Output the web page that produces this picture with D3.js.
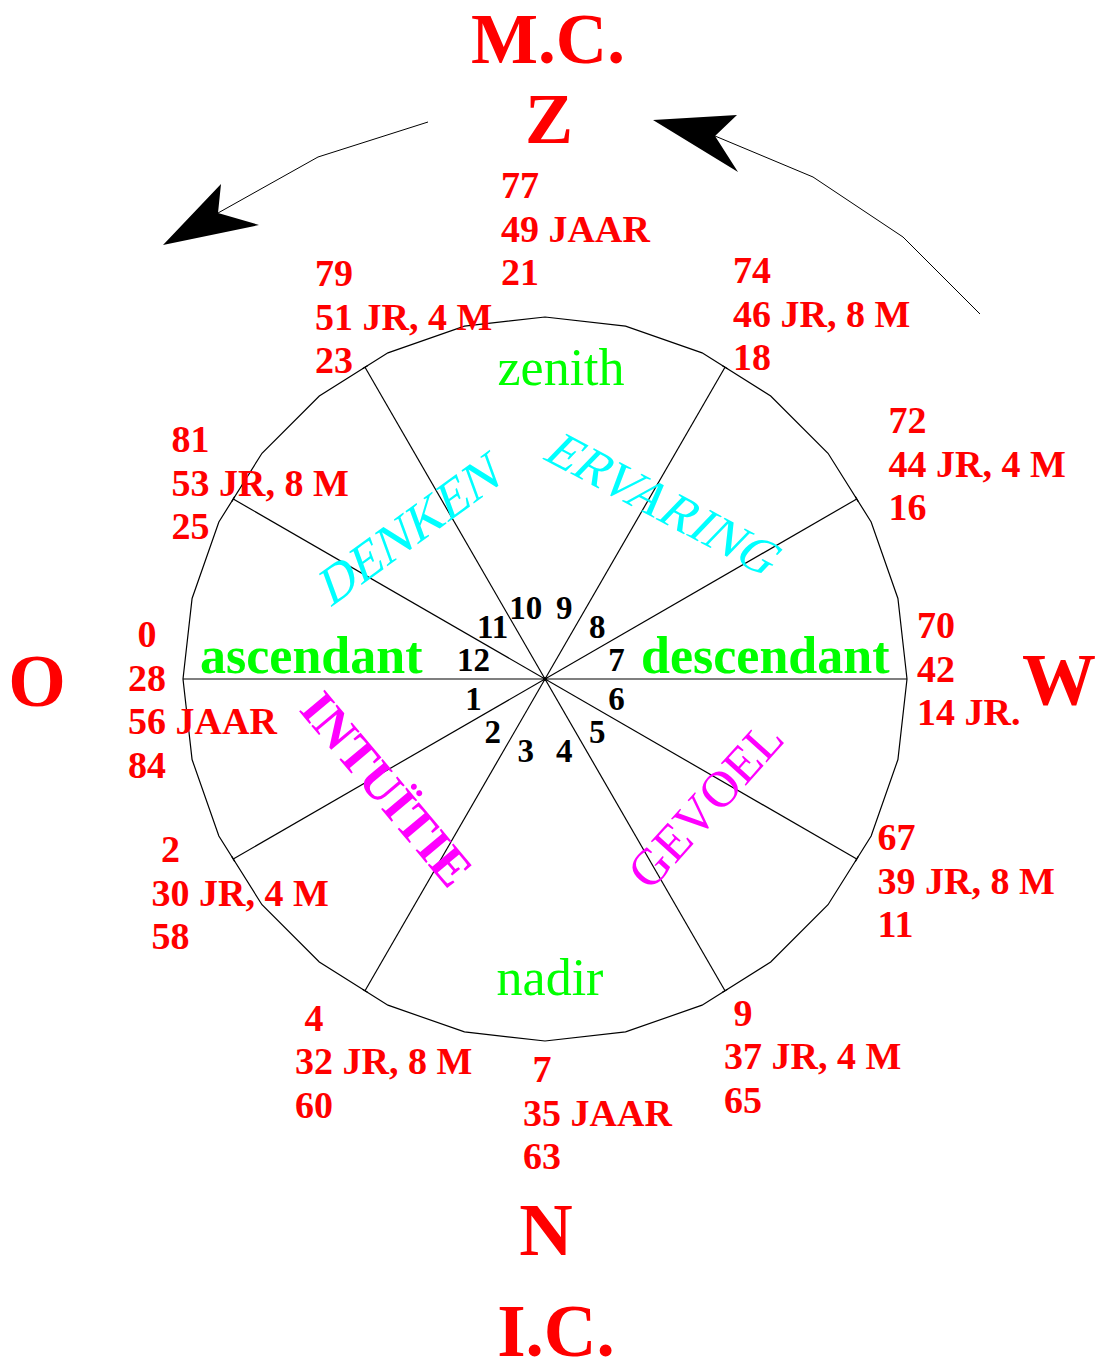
<!DOCTYPE html>
<html><head><meta charset="utf-8">
<script src="https://cdn.jsdelivr.net/npm/d3@7"></script>
<style>body{margin:0;background:#fff}svg{display:block}text{font-family:"Liberation Serif","Times New Roman",serif;white-space:pre}</style>
</head><body>
<script>
// ---------- data ----------
const compassLabels = ["M.C.","Z","O","W","N","I.C."];
const pointLabels = ["zenith","nadir","ascendant","descendant"];
const quadrantLabels = ["DENKEN","ERVARING","INTUÏTIE","GEVOEL"];
const houses = ["1","2","3","4","5","6","7","8","9","10","11","12"];
const spokeAngles = [0,30,60,120,150];           // degrees (diameters)
const cuspAngles = [90,120,60,30,150,180,0,330,210,240,300,270];
const cuspTexts = [
  ["77","49 JAAR","21"],
  ["79","51 JR, 4 M","23"],
  ["74","46 JR, 8 M","18"],
  ["72","44 JR, 4 M","16"],
  ["81","53 JR, 8 M","25"],
  [" 0","28","56 JAAR","84"],
  ["70","42","14 JR."],
  ["67","39 JR, 8 M","11"],
  [" 2","30 JR, 4 M","58"],
  [" 4","32 JR, 8 M","60"],
  [" 9","37 JR, 4 M","65"],
  [" 7","35 JAAR","63"]
];

// ---------- layout ----------
const W=1104,H=1372, cx=545, cy=679, R=362, nSides=28;
const cuspOffsets = [[-44,-119],[-49,-79],[7,-82],[30,-65],[-60,-46],[-55,-32],[10,-41],[19,-10],[-80,2],[-69,38],[-2,33],[-22,41]];
const compassPos = [[548,63,71],[549,143,72],[37,706,74],[1059,705,74],[546,1255,74],[556,1356,73]];
const pointPos = [[561,385,"middle","normal"],[550,995,"middle","normal"],[200,673,"start","bold"],[641,673,"start","bold"]];
const quadPos = [[330,608,-36,"#00ffff","normal",-16,52],[541,458,28,"#00ffff","normal",-16,51],[298,710,50,"#ff00ff","bold",0,51],[650,892,-48,"#ff00ff","normal",0,51]];
const arrows = [
  {line:[[428,122],[318,157],[218,213]], head:[[163,245],[221,184],[218,213],[259,225]]},
  {line:[[980,314],[903,237],[813,177],[715,136]], head:[[653,120],[737,115],[715,136],[738,172]]}
];

const svg = d3.select("body").append("svg").attr("width",W).attr("height",H);
const rad = d => d*Math.PI/180;
const px = (a,r) => cx + r*Math.cos(rad(a));
const py = (a,r) => cy - r*Math.sin(rad(a));

// polygon
const vertexAngle = d3.scaleLinear().domain([0,nSides]).range([0,2*Math.PI]);
svg.append("path")
  .attr("d", d3.lineRadial().angle(d=>vertexAngle(d)).radius(R).curve(d3.curveLinearClosed)(d3.range(nSides)))
  .attr("transform",`translate(${cx},${cy})`)
  .attr("fill","none").attr("stroke","#000").attr("stroke-width",1.2);

// spokes (to polygon edge)
const apothem = R*Math.cos(Math.PI/nSides);
const edgeR = a => { const step=360/nSides; let off=((a-90)%step+step)%step - step/2; return apothem/Math.cos(rad(off)); };
svg.selectAll(".spoke").data(spokeAngles).join("line")
  .attr("x1",d=>px(d,edgeR(d))).attr("y1",d=>py(d,edgeR(d)))
  .attr("x2",d=>px(d+180,edgeR(d+180))).attr("y2",d=>py(d+180,edgeR(d+180)))
  .attr("stroke","#000").attr("stroke-width",1.2);
// small ticks at oblique spoke ends
const tickAngles = spokeAngles.filter(a=>a%180!==0).flatMap(a=>[a,a+180]);
svg.selectAll(".tick").data(tickAngles).join("line")
  .attr("x1",d=>px(d,edgeR(d))+3*Math.cos(rad(d+90))).attr("y1",d=>py(d,edgeR(d))-3*Math.sin(rad(d+90)))
  .attr("x2",d=>px(d,edgeR(d))-3*Math.cos(rad(d+90))).attr("y2",d=>py(d,edgeR(d))+3*Math.sin(rad(d+90)))
  .attr("stroke","#000").attr("stroke-width",1.2);
svg.append("circle").attr("cx",cx).attr("cy",cy).attr("r",2).attr("fill","#000");

// house numbers
const houseAngle = d3.scaleLinear().domain([1,12]).range([195,195+330]);
svg.selectAll(".house").data(houses).join("text")
  .attr("x",(d,i)=>px(houseAngle(i+1),74)).attr("y",(d,i)=>py(houseAngle(i+1),74))
  .attr("dy","0.35em").attr("text-anchor","middle")
  .attr("font-size",33).attr("font-weight","bold").attr("fill","#000").text(d=>d);

// cusp age labels
cuspTexts.forEach((lines,i)=>{
  const a=cuspAngles[i], o=cuspOffsets[i];
  const x=px(a,R)+o[0], y=py(a,R)+o[1];
  const t=svg.append("text").attr("font-size",38).attr("font-weight","bold").attr("fill","#ff0000");
  lines.forEach((s,j)=>t.append("tspan").attr("x",x).attr("y",y+j*43.5).text(s));
});

// compass labels
svg.selectAll(".comp").data(compassLabels).join("text")
  .attr("x",(d,i)=>compassPos[i][0]).attr("y",(d,i)=>compassPos[i][1])
  .attr("text-anchor","middle").attr("font-size",(d,i)=>compassPos[i][2])
  .attr("font-weight","bold").attr("fill","#ff0000").text(d=>d);

// green point labels
svg.selectAll(".pt").data(pointLabels).join("text")
  .attr("x",(d,i)=>pointPos[i][0]).attr("y",(d,i)=>pointPos[i][1])
  .attr("text-anchor",(d,i)=>pointPos[i][2]).attr("font-weight",(d,i)=>pointPos[i][3])
  .attr("font-size",52).attr("fill","#00ff00").text(d=>d);

// quadrant labels
svg.selectAll(".quad").data(quadrantLabels).join("text")
  .attr("transform",(d,i)=>`translate(${quadPos[i][0]},${quadPos[i][1]}) rotate(${quadPos[i][2]}) skewX(${quadPos[i][5]})`)
  .attr("font-size",(d,i)=>quadPos[i][6]).attr("font-weight",(d,i)=>quadPos[i][4]).attr("fill",(d,i)=>quadPos[i][3]).text(d=>d);

// arrows
const line = d3.line();
arrows.forEach(a=>{
  svg.append("path").attr("d",line(a.line)).attr("fill","none").attr("stroke","#000").attr("stroke-width",1);
  svg.append("path").attr("d",line(a.head)+"Z").attr("fill","#000");
});
</script>
</body></html>
